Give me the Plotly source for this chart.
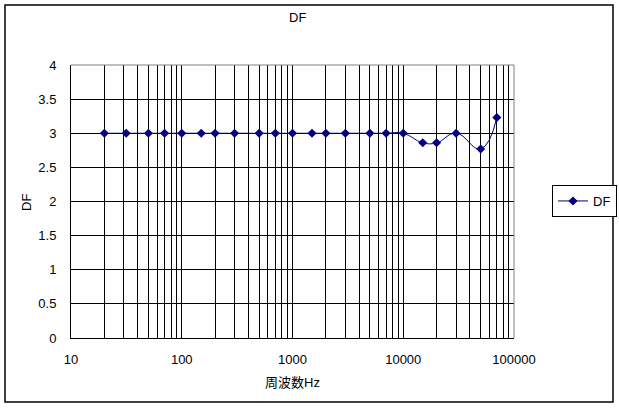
import plotly.graph_objects as go

freq = [20, 31.5, 50, 70, 100, 150, 200, 300, 500, 700, 1000, 1500, 2000, 3000,
        5000, 7000, 10000, 15000, 20000, 30000, 50000, 70000]
df_vals = [3, 3, 3, 3, 3, 3, 3, 3, 3, 3, 3, 3, 3, 3,
           3, 3, 3, 2.86, 2.86, 3.0, 2.77, 3.23]
x_ticks = [10, 100, 1000, 10000, 100000]
y_ticks = [0, 0.5, 1, 1.5, 2, 2.5, 3, 3.5, 4]

FONT = "Liberation Sans, Arial, Noto Sans CJK JP"

# grid positions: every 1..9 x 10^n
grid_vals = []
grid_text = []
for p in range(1, 5):
    for m in range(1, 10):
        v = m * 10 ** p
        grid_vals.append(v)
        grid_text.append(str(v) if v in x_ticks else "")
grid_vals.append(100000)
grid_text.append("100000")

fig = go.Figure()
fig.add_trace(go.Scatter(
    x=freq, y=df_vals, name="DF", mode="lines+markers",
    line=dict(color="#000080", width=1, shape="spline", smoothing=1.3),
    marker=dict(symbol="diamond", size=7, color="#000080"),
))

W, H = 619, 409
L, R, T, B = 71, 514, 65, 338


def fx(xp):
    return xp / W


def fy(yp):
    return 1 - yp / H


fig.update_layout(
    width=W, height=H,
    margin=dict(l=0, r=0, t=0, b=0, pad=0, autoexpand=False),
    paper_bgcolor="white", plot_bgcolor="white",
    font=dict(family=FONT, size=13, color="black"),
    showlegend=True,
    legend=dict(x=fx(552), y=fy(201), xanchor="left", yanchor="middle",
                bordercolor="black", borderwidth=1, bgcolor="white",
                font=dict(size=13), itemwidth=30),
    xaxis=dict(type="log", range=[1, 5], domain=[fx(L), fx(R)],
               tickmode="array", tickvals=grid_vals, ticktext=grid_text,
               showgrid=True, gridcolor="black", gridwidth=1,
               showline=True, linecolor="black", linewidth=1,
               ticks="", zeroline=False, ticklabelstandoff=9,
               automargin=False),
    yaxis=dict(range=[0, 4], domain=[fy(B), fy(T)],
               tickmode="array", tickvals=y_ticks,
               ticktext=[f"{v:g}" for v in y_ticks],
               showgrid=True, gridcolor="black", gridwidth=1,
               showline=True, linecolor="black", linewidth=1,
               ticks="", zeroline=False, ticklabelstandoff=11,
               automargin=False),
    annotations=[
        dict(text="DF", x=fx(297), y=fy(17), xref="paper", yref="paper",
             showarrow=False, xanchor="center", yanchor="middle",
             font=dict(size=13)),
        dict(text="周波数Hz", x=fx(292), y=fy(382), xref="paper", yref="paper",
             showarrow=False, xanchor="center", yanchor="middle",
             font=dict(size=13)),
        dict(text="DF", x=fx(26), y=fy(203), xref="paper", yref="paper",
             showarrow=False, xanchor="center", yanchor="middle",
             textangle=-90, font=dict(size=13)),
    ],
    shapes=[
        dict(type="rect", xref="paper", yref="paper",
             x0=fx(5), x1=fx(613), y0=fy(402), y1=fy(5),
             line=dict(color="black", width=1.5), layer="below"),
        dict(type="line", xref="paper", yref="paper",
             x0=fx(L), x1=fx(R), y0=fy(T), y1=fy(T),
             line=dict(color="#808080", width=1)),
        dict(type="line", xref="paper", yref="paper",
             x0=fx(R), x1=fx(R), y0=fy(B), y1=fy(T),
             line=dict(color="#808080", width=1)),
    ],
)

fig.write_html(
    "out.html",
    config={"displayModeBar": False},
    post_script="document.body.style.margin='0';document.body.style.overflow='hidden';",
)
